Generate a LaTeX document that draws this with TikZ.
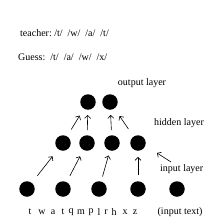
\documentclass[tikz,border=0pt]{standalone}
\usepackage{fontspec}
\setmainfont{Liberation Serif}
\usetikzlibrary{arrows.meta}

\begin{document}
\begin{tikzpicture}
[
	unit/.style={circle,fill=black,inner sep=0pt,minimum size=15.5pt},
	lbl/.style={inner sep=0pt,font=\fontsize{10}{12}\selectfont},
	link/.style={->,line width=0.6pt,shorten <=#1,shorten >=#1},
	>={Straight Barb[length=3pt,width=6pt]},
	x=1pt,y=-1pt
]
	\useasboundingbox (0,0) rectangle (220,220);

	% targets
	\node[lbl,anchor=west] (teacher) at (20,33) {teacher:\ /t/\ \ /w/\ \ /a/\ \ /t/};
	\node[lbl,anchor=west] (guess) at (18,57) {Guess:\ \ /t/\ \ /a/\ \ /w/\ \ /x/};

	% output layer
	\node[unit] (o1) at (88,102) {};
	\node[unit] (o2) at (110,102) {};
	\node[lbl] (outlab) at (142,83) {output layer};

	% hidden layer
	\node[unit] (h1) at (63,143) {};
	\node[unit] (h2) at (87,143) {};
	\node[unit] (h3) at (112,143) {};
	\node[unit] (h4) at (138,143) {};
	\node[lbl,anchor=west] (hidlab) at (154,123) {hidden layer};

	% input layer
	\node[unit] (i1) at (27,189) {};
	\node[unit] (i2) at (63,189) {};
	\node[unit] (i3) at (99,189) {};
	\node[unit] (i4) at (138,189) {};
	\node[unit] (i5) at (177,189) {};
	\node[lbl,anchor=west] (inlab) at (160,169) {input layer};
	\coordinate (inpt) at (157,153);

	% links
	\draw[link=9pt] (i1) -- (h1);
	\draw[link=7pt] (i2) -- (h2);
	\draw[link=5pt] (i3) -- (h3);
	\draw[link=6pt] (i4) -- (h4);
	\draw[link=8pt] (h1) -- (o1);
	\draw[link=5pt] (h2) -- (o1);
	\draw[link=5pt] (h3) -- (o2);
	\draw[link=9pt] (h4) -- (o2);
	\draw[->,line width=0.6pt] (171,162) -- (inpt);

	% input text
	\foreach \c/\x in {t/30,w/42,a/53,t/63,q/71,m/81,p/91,l/99,r/106,h/114,x/125,z/135}
		\node[lbl] (ch\x) at (\x,212) {\c};
	\node[lbl] (intext) at (180,212) {(input text)};

\end{tikzpicture}
\end{document}
